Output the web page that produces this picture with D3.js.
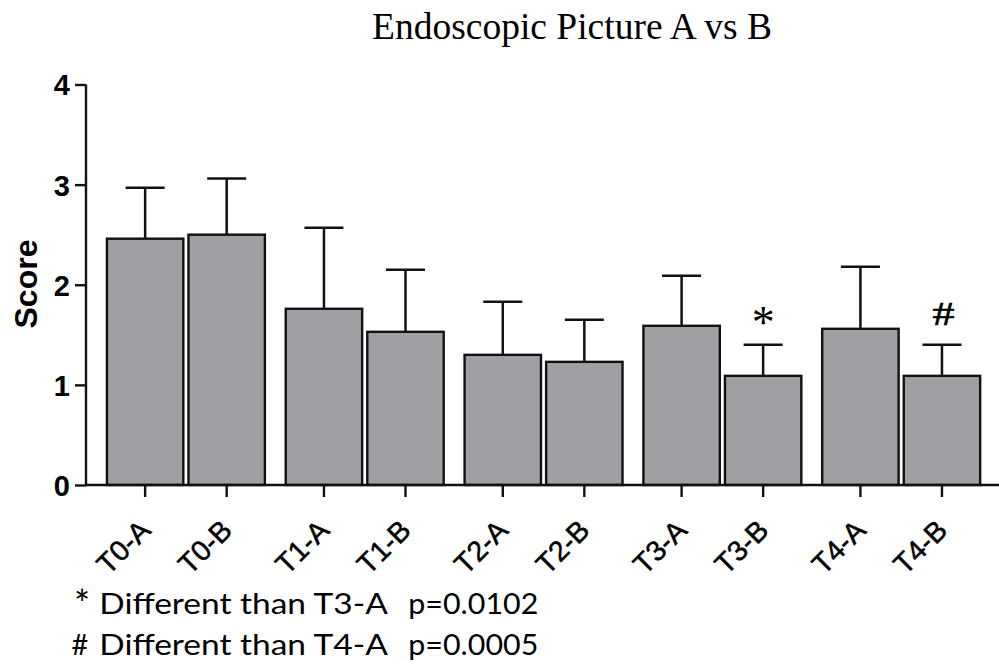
<!DOCTYPE html>
<html>
<head>
<meta charset="utf-8">
<script src="https://cdn.jsdelivr.net/npm/d3@7"></script>
<style>
  html, body { margin: 0; padding: 0; background: #fff; }
  svg { display: block; }
</style>
</head>
<body>
<svg id="chart" width="999" height="666"></svg>
<script>
// ---- data ----
const timePoints = ["T0", "T1", "T2", "T3", "T4"];
const groupsAB = ["A", "B"];
const categories = ["T0-A", "T0-B", "T1-A", "T1-B", "T2-A", "T2-B", "T3-A", "T3-B", "T4-A", "T4-B"];
const means = [2.46, 2.50, 1.76, 1.53, 1.30, 1.23, 1.59, 1.09, 1.56, 1.09];
const errors = [0.51, 0.56, 0.81, 0.62, 0.53, 0.42, 0.50, 0.31, 0.62, 0.31];
const yTicks = [0, 1, 2, 3, 4];
const marks = [{ cat: "T3-B", sym: "*" }, { cat: "T4-B", sym: "#" }];
const titleText = "Endoscopic Picture A vs B";
const yLabel = "Score";
const notes = [
  { sym: "*", text: "Different than T3-A", p: "p=0.0102" },
  { sym: "#", text: "Different than T4-A", p: "p=0.0005" }
];

const data = categories.map((c, i) => ({
  cat: c, tp: c.split("-")[0], grp: c.split("-")[1], mean: means[i], err: errors[i]
}));

// ---- layout ----
const svg = d3.select("#chart");
const x0 = 86, yBase = 485, yTop = 84.5;
const y = d3.scaleLinear().domain([0, 4]).range([yBase, yTop]);
const xOuter = d3.scaleBand().domain(timePoints).range([96.5, 990.6]).paddingInner(0.088).paddingOuter(0.044);
const xInner = d3.scaleBand().domain(groupsAB).range([0, xOuter.bandwidth()]).padding(0);
const cx = d => xOuter(d.tp) + xInner(d.grp) + xInner.bandwidth() / 2;
const barHalf = 38.2, capHalf = 19.5;
const ink = "#111";

// title
svg.append("text")
  .attr("x", 572).attr("y", 38.5)
  .attr("text-anchor", "middle")
  .attr("font-family", "'Liberation Serif', 'Times New Roman', serif")
  .attr("font-size", 37.5)
  .attr("fill", "#000")
  .text(titleText);

// error bars (behind bars)
const eb = svg.append("g").attr("stroke", ink).attr("stroke-width", 2.5).attr("fill", "none");
data.forEach(d => {
  eb.append("line").attr("x1", cx(d)).attr("x2", cx(d)).attr("y1", y(d.mean)).attr("y2", y(d.mean + d.err));
  eb.append("line").attr("x1", cx(d) - capHalf).attr("x2", cx(d) + capHalf).attr("y1", y(d.mean + d.err)).attr("y2", y(d.mean + d.err));
});

// bars
svg.append("g").selectAll("rect").data(data).join("rect")
  .attr("x", d => cx(d) - barHalf)
  .attr("width", barHalf * 2)
  .attr("y", d => y(d.mean))
  .attr("height", d => y(0) - y(d.mean))
  .attr("fill", "#a09fa4")
  .attr("stroke", ink)
  .attr("stroke-width", 2.4);

// y axis
const yAxis = svg.append("g").attr("transform", `translate(${x0},0)`)
  .call(d3.axisLeft(y).tickValues(yTicks).tickFormat(d3.format("d")).tickSize(11).tickPadding(5));
yAxis.select(".domain").attr("stroke", ink).attr("stroke-width", 2.4).attr("d", `M0,${yTop}V${yBase}`);
yAxis.selectAll(".tick line").attr("stroke", ink).attr("stroke-width", 2.4);
yAxis.selectAll(".tick text")
  .attr("font-family", "'Liberation Sans', Arial, sans-serif")
  .attr("font-weight", "bold")
  .attr("font-size", 29)
  .attr("fill", "#000")
  .attr("dy", "0.36em");

// x axis
const xPos = d3.scaleOrdinal().domain(categories).range(data.map(cx));
const xAxis = svg.append("g").attr("transform", `translate(0,${yBase})`);
xAxis.append("line").attr("x1", x0).attr("x2", 999).attr("y1", 0).attr("y2", 0)
  .attr("stroke", ink).attr("stroke-width", 2.4);
const xt = xAxis.selectAll("g.xt").data(categories).join("g").attr("class", "xt")
  .attr("transform", c => `translate(${xPos(c)},0)`);
xt.append("line").attr("y1", 0).attr("y2", 12).attr("stroke", ink).attr("stroke-width", 2.4);
xt.append("text")
  .attr("transform", "translate(7,47) rotate(-45)")
  .attr("text-anchor", "end")
  .attr("font-family", "'Liberation Sans', Arial, sans-serif")
  .attr("font-size", 28.5)
  .attr("fill", "#000")
  .attr("stroke", "#000")
  .attr("stroke-width", 0.5)
  .text(c => c);

// y label
svg.append("text")
  .attr("transform", "translate(37,284) rotate(-90)")
  .attr("text-anchor", "middle")
  .attr("font-family", "'Liberation Sans', Arial, sans-serif")
  .attr("font-weight", "bold")
  .attr("font-size", 32)
  .attr("fill", "#000")
  .text(yLabel);

// significance marks
marks.forEach(m => {
  const d = data.find(v => v.cat === m.cat);
  const t = svg.append("text")
    .attr("x", cx(d))
    .attr("text-anchor", "middle")
    .attr("font-family", "'Liberation Serif', 'Times New Roman', serif")
    .attr("fill", "#000")
    .text(m.sym);
  if (m.sym === "*") t.attr("y", 338).attr("font-size", 46);
  else t.attr("x", cx(d) + 1.5).attr("y", 325).attr("font-size", 34.5)
    .attr("textLength", 22).attr("lengthAdjust", "spacingAndGlyphs")
    .attr("stroke", "#000").attr("stroke-width", 0.6);
});

// footnotes
const noteFont = "Lato, 'Open Sans', sans-serif";
notes.forEach((n, i) => {
  const by = 614 + i * 41;
  svg.append("text").attr("x", i === 0 ? 74 : 71.5).attr("y", by + (i === 0 ? 4 : 0))
    .attr("font-family", noteFont).attr("font-size", i === 0 ? 38 : 29).attr("fill", "#000").text(n.sym);
  svg.append("text").attr("x", 99.3).attr("y", by)
    .attr("font-family", noteFont).attr("font-size", 29).attr("fill", "#000")
    .attr("textLength", 288.5).attr("lengthAdjust", "spacingAndGlyphs").text(n.text);
  svg.append("text").attr("x", 408.3).attr("y", by)
    .attr("font-family", noteFont).attr("font-size", 29).attr("fill", "#000")
    .attr("textLength", 130).attr("lengthAdjust", "spacingAndGlyphs").text(n.p);
});
</script>
</body>
</html>
